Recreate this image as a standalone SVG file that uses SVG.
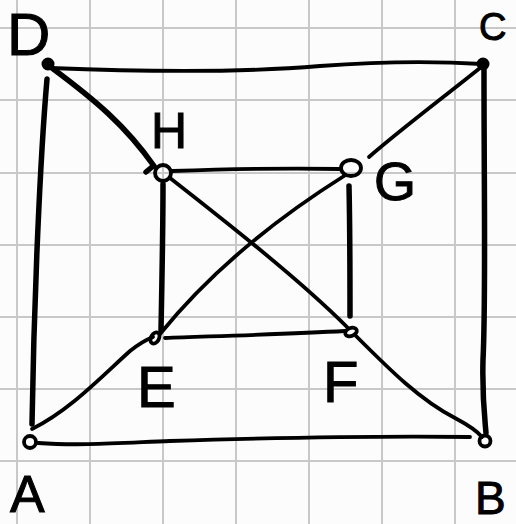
<svg xmlns="http://www.w3.org/2000/svg" width="516" height="524" viewBox="0 0 516 524">
<style>
.grid line{stroke:#c8c8c8;stroke-width:2}
.e{fill:none;stroke:#000;stroke-linecap:round;stroke-linejoin:round}
.thick{stroke-width:5.5}
.thin{stroke-width:3.8}
.ring{fill:none;stroke:#000;stroke-width:3.8}
.dot{fill:#000;stroke:#000;stroke-width:2}
.lbl{font-family:"Liberation Sans",Arial,sans-serif;fill:#000;stroke:#000;stroke-width:1}
</style>
<rect width="516" height="524" fill="#fcfcfc"/>
<g class="grid">
<line x1="17" y1="0" x2="17" y2="524"/><line x1="90" y1="0" x2="90" y2="524"/><line x1="163" y1="0" x2="163" y2="524"/><line x1="236" y1="0" x2="236" y2="524"/><line x1="309" y1="0" x2="309" y2="524"/><line x1="382" y1="0" x2="382" y2="524"/><line x1="455" y1="0" x2="455" y2="524"/>
<line x1="0" y1="28" x2="516" y2="28"/><line x1="0" y1="100" x2="516" y2="100"/><line x1="0" y1="173" x2="516" y2="173"/><line x1="0" y1="245" x2="516" y2="245"/><line x1="0" y1="317" x2="516" y2="317"/><line x1="0" y1="389" x2="516" y2="389"/><line x1="0" y1="461" x2="516" y2="461"/>
</g>
<g id="connectors">
<path class="e thin" d="M50 68 C150 72 250 72 320 66 C400 60 450 62 482 64"/>
<path class="e thick" d="M47 79 C40 160 34 300 32 424"/>
<path class="e thick" d="M484 70 C484 200 486 300 483 360 C482 400 485 420 486 433"/>
<path class="e thin" d="M38 443 C80 446 120 443 170 441 C300 437 400 436 470 437"/>
<path class="e thick" d="M52 68 C95 100 125 125 154 166 M152 167 L146 172"/>
<path class="e thin" d="M170 178 C230 225 300 280 347 327"/>
<path class="e thin" d="M356 336 C390 370 420 400 455 418 C470 426 478 432 482 437"/>
<path class="e thin" d="M480 68 C440 100 400 130 369 157"/>
<path class="e thin" d="M344 176 C290 210 220 260 160 334"/>
<path class="e thin" d="M172 171 C230 169 290 168 340 169"/>
<path class="e thick" d="M163 184 C163 230 162 280 161 330"/>
<path class="e thick" d="M349 186 C350 230 350 280 350 316"/>
<path class="e thin" d="M165 338 C220 336 290 334 345 331"/>
<path class="e thin" d="M32 429 C70 410 100 378 130 351 C140 343 148 339 153 337"/>
</g>
<g id="D"><circle class="dot" cx="48" cy="64" r="5.5"/><text class="lbl" x="7" y="55" font-size="60">D</text></g>
<g id="C"><circle class="dot" cx="483" cy="64" r="5.5"/><text class="lbl" x="479" y="40" font-size="38">C</text></g>
<g id="H"><circle class="ring" cx="163" cy="173" r="8"/><text class="lbl" x="151" y="148" font-size="50">H</text></g>
<g id="G"><ellipse class="ring" cx="351" cy="168" rx="10" ry="8"/><text class="lbl" x="374" y="200" font-size="54">G</text></g>
<g id="E"><ellipse class="ring" cx="155" cy="338" rx="4" ry="6" transform="rotate(30 155 338)"/><text class="lbl" x="137" y="407" font-size="58">E</text></g>
<g id="F"><ellipse class="ring" cx="351" cy="332" rx="6" ry="4" transform="rotate(-20 351 332)"/><text class="lbl" x="323" y="402" font-size="58">F</text></g>
<g id="A"><circle class="ring" cx="30" cy="442" r="6"/><text class="lbl" x="10" y="512" font-size="52">A</text></g>
<g id="B"><circle class="ring" cx="485" cy="441" r="5.5"/><text class="lbl" x="475" y="514" font-size="46">B</text></g>
</svg>
